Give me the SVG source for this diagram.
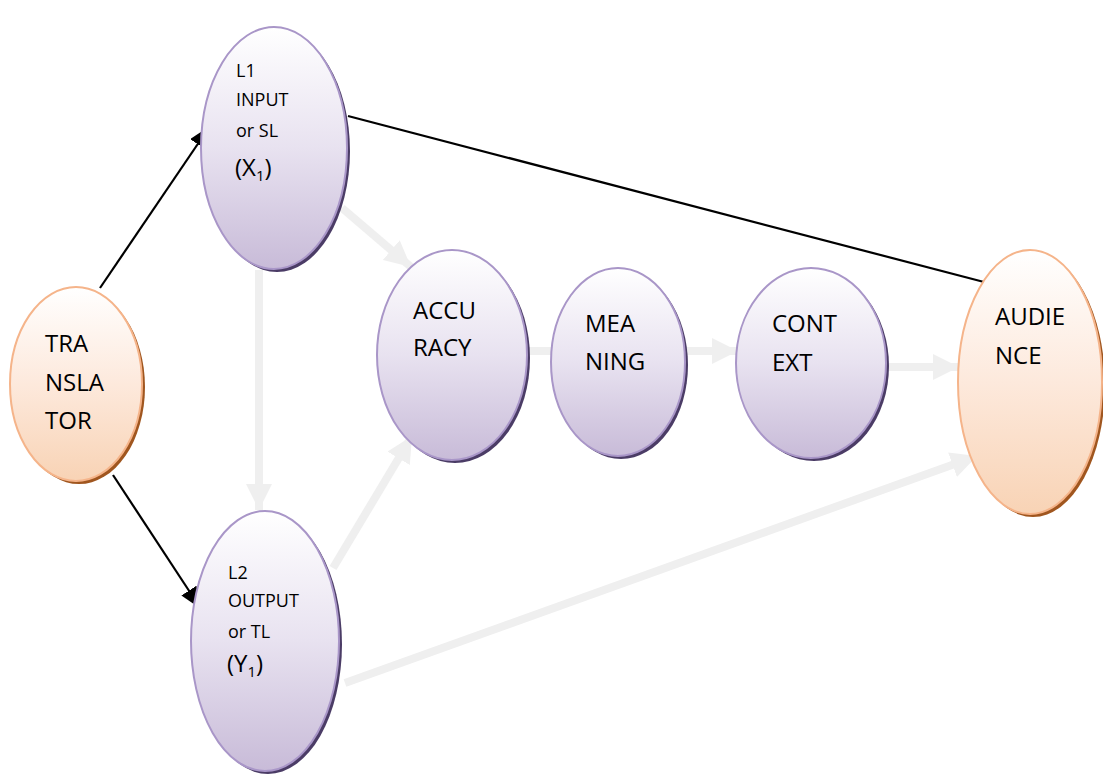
<svg xmlns="http://www.w3.org/2000/svg" width="1103" height="776" viewBox="0 0 1103 776">
<defs>
<linearGradient id="gp" x1="0" y1="0" x2="0" y2="1">
<stop offset="0" stop-color="#ffffff"/>
<stop offset="0.5" stop-color="#e8e2f0"/>
<stop offset="1" stop-color="#c8bbd8"/>
</linearGradient>
<linearGradient id="go" x1="0" y1="0" x2="0" y2="1">
<stop offset="0" stop-color="#ffffff"/>
<stop offset="0.5" stop-color="#fde9dc"/>
<stop offset="1" stop-color="#f8d3b5"/>
</linearGradient>
<marker id="ab" markerWidth="22" markerHeight="18" refX="22" refY="9" orient="auto" markerUnits="userSpaceOnUse" viewBox="0 0 22 18">
<path d="M0,0 L22,9 L0,18 z" fill="#000"/>
</marker>
<marker id="ag" markerWidth="26" markerHeight="26" refX="26" refY="13" orient="auto" markerUnits="userSpaceOnUse" viewBox="0 0 26 26">
<path d="M0,0 L26,13 L0,26 z" fill="#efefef"/>
</marker>
<style>
.p{fill:url(#gp);stroke:#a996c8;stroke-width:2}
.o{fill:url(#go);stroke:#f5b48a;stroke-width:2}
.ps{fill:#4b3c66}
.os{fill:#a0561f}
.t{font-family:"Open Sans","Liberation Sans",Arial,sans-serif;font-size:24px;fill:#000}
.s{font-family:"Open Sans","Liberation Sans",Arial,sans-serif;font-size:18px;fill:#000}
.b{stroke:#000;stroke-width:2.2;fill:none}
.g{stroke:#efefef;stroke-width:8;fill:none}
</style>
</defs>
<g id="connectors">
<line class="b" x1="100" y1="288" x2="210" y2="126" marker-end="url(#ab)"/>
<line class="b" x1="113" y1="475" x2="201" y2="609" marker-end="url(#ab)"/>
<line class="b" x1="348" y1="116" x2="984" y2="282"/>
<line class="g" x1="342" y1="208" x2="411" y2="267" marker-end="url(#ag)"/>
<line class="g" x1="259" y1="270" x2="259" y2="510" marker-end="url(#ag)"/>
<line class="g" x1="333" y1="568" x2="412" y2="436" marker-end="url(#ag)"/>
<line class="g" x1="526" y1="351" x2="551" y2="351"/>
<line class="g" x1="686" y1="351" x2="738" y2="351" marker-end="url(#ag)"/>
<line class="g" x1="887" y1="367" x2="959" y2="367" marker-end="url(#ag)"/>
<line class="g" x1="345" y1="683" x2="977" y2="456" marker-end="url(#ag)"/>
</g>
<g id="translator">
<ellipse class="os" cx="79" cy="387" rx="66" ry="97"/>
<ellipse class="o" cx="76" cy="384" rx="66" ry="97"/>
<text class="t" x="45" y="352">TRA</text>
<text class="t" x="45" y="391">NSLA</text>
<text class="t" x="45" y="429">TOR</text>
</g>
<g id="l1">
<ellipse class="ps" cx="277" cy="151" rx="73" ry="121"/>
<ellipse class="p" cx="274" cy="148" rx="73" ry="121"/>
<text class="s" x="236" y="77">L1</text>
<text class="s" x="236" y="106">INPUT</text>
<text class="s" x="236" y="137">or SL</text>
<text class="t" x="235" y="176">(X<tspan font-size="15" dy="5">1</tspan><tspan dy="-5">)</tspan></text>
</g>
<g id="l2">
<ellipse class="ps" cx="268" cy="644" rx="74" ry="130"/>
<ellipse class="p" cx="265" cy="641" rx="74" ry="130"/>
<text class="s" x="228" y="579">L2</text>
<text class="s" x="228" y="607">OUTPUT</text>
<text class="s" x="228" y="638">or TL</text>
<text class="t" x="227" y="672">(Y<tspan font-size="15" dy="5">1</tspan><tspan dy="-5">)</tspan></text>
</g>
<g id="accuracy">
<ellipse class="ps" cx="455" cy="358" rx="75" ry="105"/>
<ellipse class="p" cx="452" cy="355" rx="75" ry="105"/>
<text class="t" x="413" y="319">ACCU</text>
<text class="t" x="413" y="356">RACY</text>
</g>
<g id="meaning">
<ellipse class="ps" cx="621" cy="365" rx="67" ry="94"/>
<ellipse class="p" cx="618" cy="362" rx="67" ry="94"/>
<text class="t" x="585" y="332">MEA</text>
<text class="t" x="585" y="370">NING</text>
</g>
<g id="context">
<ellipse class="ps" cx="814" cy="366" rx="75" ry="95"/>
<ellipse class="p" cx="811" cy="363" rx="75" ry="95"/>
<text class="t" x="772" y="332">CONT</text>
<text class="t" x="772" y="371">EXT</text>
</g>
<g id="audience">
<ellipse class="os" cx="1033" cy="385" rx="72" ry="132"/>
<ellipse class="o" cx="1030" cy="382" rx="72" ry="132"/>
<text class="t" x="995" y="325">AUDIE</text>
<text class="t" x="995" y="364">NCE</text>
</g>
</svg>
